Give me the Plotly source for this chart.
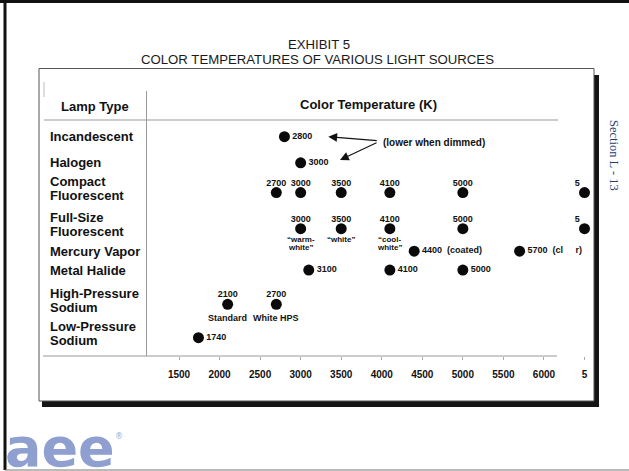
import plotly.graph_objects as go

# ---------------- data ----------------
lamp_types = ["Incandescent", "Halogen", "Compact\nFluorescent", "Full-Size\nFluorescent",
              "Mercury Vapor", "Metal Halide", "High-Pressure\nSodium", "Low-Pressure\nSodium"]

incandescent_k = [2800]
halogen_k = [3000]
compact_fl_k = [2700, 3000, 3500, 4100, 5000, 6500]
fullsize_fl_k = [3000, 3500, 4100, 5000, 6500]
mercury_k = [4400, 5700]
metal_halide_k = [3100, 4100, 5000]
hps_k = [2100, 2700]
lps_k = [1740]

compact_fl_labels = ["2700", "3000", "3500", "4100", "5000", "5"]
fullsize_fl_labels = ["3000", "3500", "4100", "5000", "5"]
fullsize_fl_note1 = ["\u201cwarm-", "\u201cwhite\u201d", "\u201ccool-", "", ""]
fullsize_fl_note2 = ["white\u201d", "", "white\u201d", "", ""]
mercury_labels = ["4400\u00a0 (coated)", "5700\u00a0 (cl\u00a0\u00a0\u00a0\u00a0 r)"]
hps_labels = ["2100", "2700"]
hps_notes = ["Standard", "White HPS"]

tick_values = [1500, 2000, 2500, 3000, 3500, 4000, 4500, 5000, 5500, 6000, 6500]
tick_text = ["1500", "2000", "2500", "3000", "3500", "4000", "4500", "5000", "5500", "6000", "5"]

# ---------------- layout helpers ----------------
W, H = 629, 471
FONT = "Liberation Sans"
INK = "#111111"
row_gap = [1.45, 1.65, 2.0, 1.25, 1.05, 1.9, 1.85]   # vertical spacing between rows
row_pos = [0.0]
for g in row_gap:
    row_pos.append(row_pos[-1] + g)


def px(x):
    return x / W


def py(y):
    return 1 - y / H


rows = [
    (incandescent_k, [str(v) for v in incandescent_k], "right"),
    (halogen_k, [str(v) for v in halogen_k], "right"),
    (compact_fl_k, compact_fl_labels, "top"),
    (fullsize_fl_k, fullsize_fl_labels, "top"),
    (mercury_k, mercury_labels, "right"),
    (metal_halide_k, [str(v) for v in metal_halide_k], "right"),
    (hps_k, hps_labels, "top"),
    (lps_k, [str(v) for v in lps_k], "right"),
]

dot_x, dot_y, dot_txt = [], [], []
top_x, top_y, top_txt, top_pos = [], [], [], []
for i, (vals, labs, where) in enumerate(rows):
    for v, lab in zip(vals, labs):
        dot_x.append(v)
        dot_y.append(row_pos[i])
        if where == "right":
            dot_txt.append(lab)
        else:
            dot_txt.append("")
            top_x.append(v)
            top_y.append(row_pos[i])
            top_txt.append(lab)
            top_pos.append("top left" if lab == "5" else "top center")

fig = go.Figure()
fig.add_trace(go.Scatter(
    x=dot_x, y=dot_y, mode="markers+text", text=dot_txt, textposition="middle right",
    marker=dict(size=11, color="#0a0a0a"),
    textfont=dict(family=FONT, size=9, color=INK, weight="bold"),
    cliponaxis=False, showlegend=False, hoverinfo="skip"))
fig.add_trace(go.Scatter(
    x=top_x, y=top_y, mode="markers+text", text=top_txt, textposition=top_pos,
    marker=dict(size=6, opacity=0),
    textfont=dict(family=FONT, size=9, color=INK, weight="bold"),
    cliponaxis=False, showlegend=False, hoverinfo="skip"))


def ann(x, y, text, size, xref="paper", yref="paper", xanchor="center", yanchor="middle",
        weight="bold", family=FONT, color=INK, **kw):
    return dict(x=x, y=y, xref=xref, yref=yref, text=text, showarrow=False,
                xanchor=xanchor, yanchor=yanchor,
                font=dict(family=family, size=size, color=color, weight=weight), **kw)


annotations = []
# notes under points
for v, n1, n2 in zip(fullsize_fl_k, fullsize_fl_note1, fullsize_fl_note2):
    if n1:
        annotations.append(ann(v, row_pos[3], n1, 8, xref="x", yref="y", yshift=-11))
    if n2:
        annotations.append(ann(v, row_pos[3], n2, 8, xref="x", yref="y", yshift=-18.5))
for v, n in zip(hps_k, hps_notes):
    annotations.append(ann(v, row_pos[6], n, 9, xref="x", yref="y", yshift=-14))

# row labels (left column)
for i, name in enumerate(lamp_types):
    lines = name.split("\n")
    if len(lines) == 1:
        annotations.append(ann(px(48), row_pos[i], lines[0], 13, yref="y", xanchor="left"))
    else:
        for k, ln in enumerate(lines):
            annotations.append(ann(px(48), row_pos[i], ln, 13, yref="y", xanchor="left",
                                   yshift=4 + (7 if k == 0 else -7)))

# headers & titles
annotations += [
    ann(px(95.3), py(106.7), "Lamp Type", 13),
    ann(px(368), py(105), "Color Temperature (K)", 13),
    ann(px(318.5), py(44.5), "EXHIBIT 5", 13.2, weight="normal", color="#1a1a1a"),
    ann(px(317.7), py(59.5), "COLOR TEMPERATURES OF VARIOUS LIGHT SOURCES", 13.2,
        weight="normal", color="#1a1a1a"),
    ann(px(380.5), py(142.7), "(lower when dimmed)", 10, xanchor="left"),
    dict(x=px(328.3), y=py(136.7), xref="paper", yref="paper", text="", showarrow=True,
         ax=50, ay=4, arrowhead=2, arrowsize=1.6, arrowwidth=1.1, arrowcolor=INK, standoff=0),
    dict(x=px(340), y=py(160), xref="paper", yref="paper", text="", showarrow=True,
         ax=38, ay=-18, arrowhead=2, arrowsize=1.6, arrowwidth=1.1, arrowcolor=INK, standoff=0),
    ann(px(614), py(155), "Section L - 13", 12.5, family="Liberation Serif", weight="normal",
        color="#2c3b6e", textangle=90),
    ann(px(3), py(481), "aee", 54, xanchor="left", yanchor="bottom", family="DejaVu Sans",
        color="#8e9fd0"),
    ann(px(119), py(436), "\u00ae", 8, weight="normal", family="DejaVu Sans", color="#9aa9d6"),
]

# frame shapes
shapes = [
    dict(type="line", xref="paper", yref="paper", x0=px(0), x1=px(629), y0=py(1.5), y1=py(1.5),
         line=dict(color="#111", width=3)),
    dict(type="line", xref="paper", yref="paper", x0=px(5), x1=px(5), y0=py(0), y1=py(470),
         line=dict(color="#111", width=3)),
    dict(type="line", xref="paper", yref="paper", x0=px(5), x1=px(629), y0=py(470), y1=py(470),
         line=dict(color="#777", width=1.2)),
    # shadow
    dict(type="rect", xref="paper", yref="paper", x0=px(594), x1=px(599), y0=py(75), y1=py(407),
         fillcolor="#151515", line=dict(width=0)),
    dict(type="rect", xref="paper", yref="paper", x0=px(42), x1=px(599), y0=py(401), y1=py(407),
         fillcolor="#151515", line=dict(width=0)),
    # box
    dict(type="rect", xref="paper", yref="paper", x0=px(39), x1=px(594), y0=py(68.5), y1=py(401),
         line=dict(color="#555", width=1)),
    # table lines
    dict(type="line", xref="paper", yref="paper", x0=px(44), x1=px(558), y0=py(120), y1=py(120),
         line=dict(color="#999", width=1)),
    dict(type="line", xref="paper", yref="paper", x0=px(43), x1=px(557), y0=py(356), y1=py(356),
         line=dict(color="#999", width=1)),
    dict(type="line", xref="paper", yref="paper", x0=px(146.5), x1=px(146.5), y0=py(91), y1=py(356),
         line=dict(color="#999", width=1)),
    dict(type="line", xref="paper", yref="paper", x0=px(44), x1=px(44), y0=py(82), y1=py(97),
         line=dict(color="#bbb", width=1)),
]

# axis scale: 1500 K -> x=179 px, 0.0811 px per K
s = 0.0811
x0p, x1p = 147, 594
r0 = 1500 + (x0p - 179) / s
r1 = 1500 + (x1p - 179) / s
ypx_unit = (337.7 - 136.7) / row_pos[-1]
yr_top = (120 - 136.7) / ypx_unit
yr_bot = (356 - 136.7) / ypx_unit

fig.update_layout(
    width=W, height=H, margin=dict(l=0, r=0, t=0, b=0),
    paper_bgcolor="white", plot_bgcolor="rgba(0,0,0,0)",
    xaxis=dict(domain=[px(x0p), px(x1p)], range=[r0, r1], tickvals=tick_values, ticktext=tick_text,
               tickfont=dict(family=FONT, size=10, color=INK, weight="bold"),
               showgrid=False, zeroline=False, showline=False, ticks="outside", ticklen=3,
               tickcolor="#aaa", ticklabelstandoff=6, fixedrange=True),
    yaxis=dict(domain=[py(356), py(120)], range=[yr_bot, yr_top], visible=False, fixedrange=True),
    annotations=annotations, shapes=shapes, showlegend=False,
)

fig.write_html("out.html", config={"displayModeBar": False},
               post_script="document.body.style.margin='0px';")
